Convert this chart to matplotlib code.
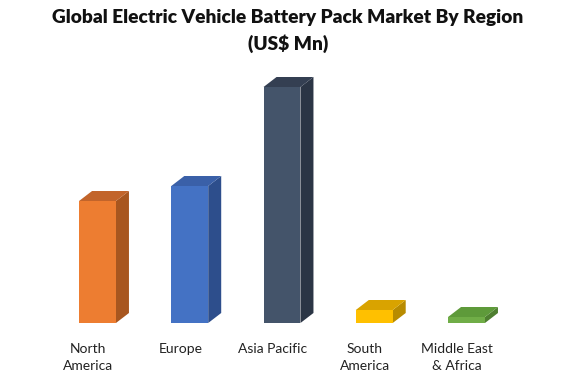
import matplotlib
matplotlib.use('Agg')
import matplotlib.pyplot as plt
from matplotlib.patches import Polygon

regions = ['North\nAmerica', 'Europe', 'Asia Pacific', 'South\nAmerica', 'Middle East\n& Africa']
values = [122, 137, 236, 13, 6]

front_colors = ['#ED7D31', '#4472C4', '#44546A', '#FFC000', '#70AD47']
side_colors = ['#A8561F', '#2D4E8C', '#2B3545', '#B88B00', '#4E7F30']
top_colors = ['#C2642A', '#3A60A8', '#343F52', '#D9A300', '#5E9A3A']

plt.rcParams['font.family'] = ['Lato', 'DejaVu Sans']

fig = plt.figure(figsize=(5.76, 3.84), dpi=100)
ax = fig.add_axes([5.25 / 576, 61 / 384, 553.5 / 576, 250 / 384])
ax.set_xlim(-1, 5)
ax.set_ylim(0, 250)
ax.axis('off')

width = 0.40
dx = 0.141   # depth in x (data units)
dy = 10      # depth in y (data units)

xs = list(range(len(values)))
ax.bar(xs, values, width=width, color=front_colors, zorder=3)

for x, v, sc, tc, lab in zip(xs, values, side_colors, top_colors, regions):
    r = x + width / 2
    l = x - width / 2
    side = Polygon([(r, 0), (r + dx, dy), (r + dx, v + dy), (r, v)],
                   closed=True, facecolor=sc, edgecolor='none', zorder=2)
    top = Polygon([(l, v), (l + dx, v + dy), (r + dx, v + dy), (r, v)],
                  closed=True, facecolor=tc, edgecolor='none', zorder=2)
    ax.add_patch(side)
    ax.add_patch(top)
    ax.text(x - 0.1, -20, lab, ha='center', va='top',
            fontsize=10, color='#222222', linespacing=1.55, clip_on=False)

fig.text(0.5, 1 - 18 / 384, 'Global Electric Vehicle Battery Pack Market By Region',
         ha='center', va='center', fontsize=13.8, fontweight='heavy', color='#111111')
fig.text(0.5, 1 - 44 / 384, '(US$ Mn)', ha='center', va='center',
         fontsize=13.8, fontweight='heavy', color='#111111')

fig.savefig('out.png', dpi=100)
